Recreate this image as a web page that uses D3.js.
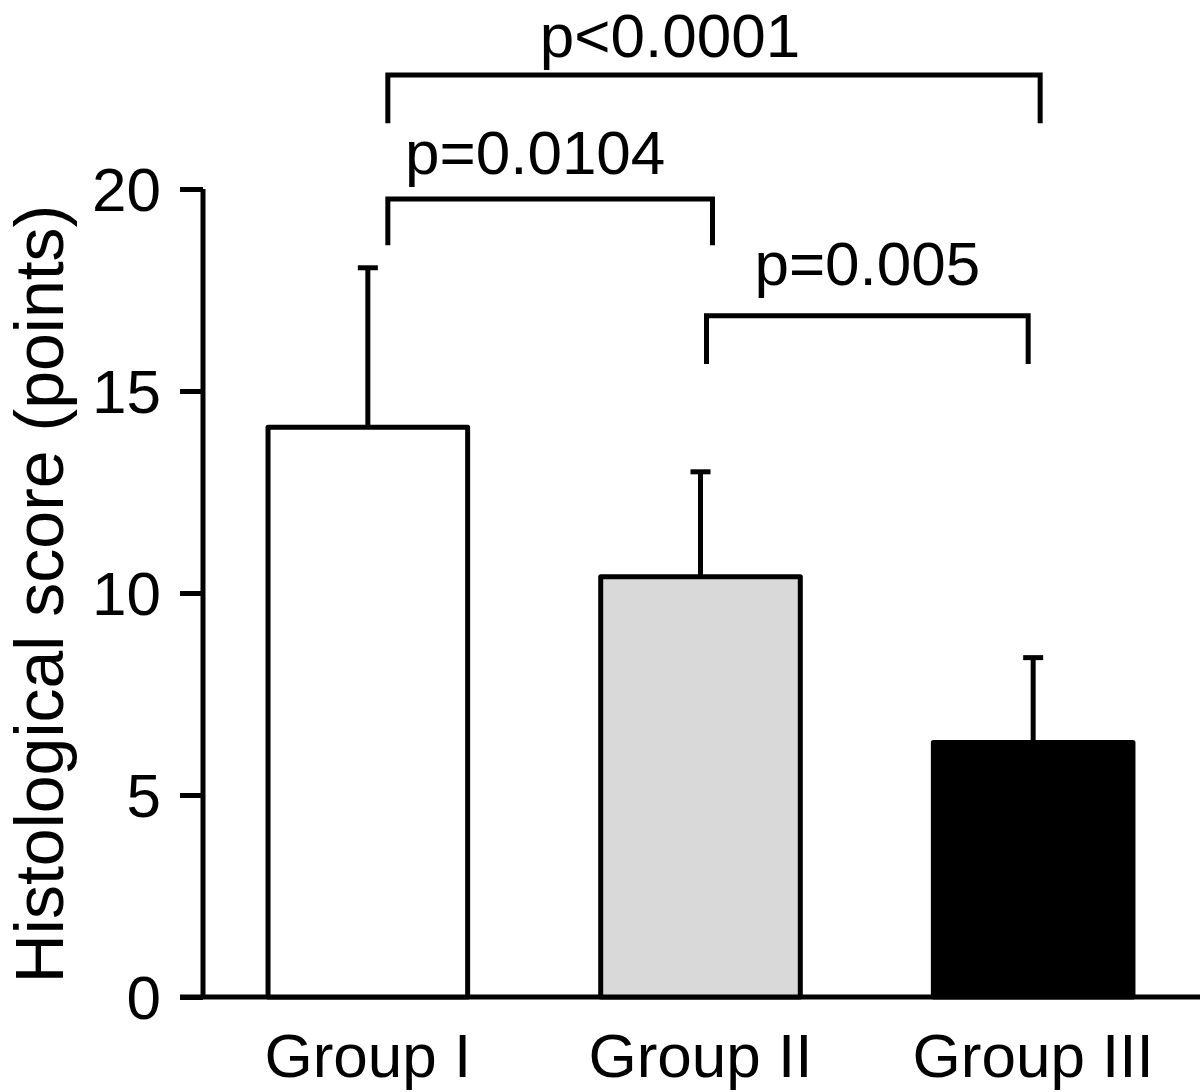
<!DOCTYPE html>
<html>
<head>
<meta charset="utf-8">
<script src="https://cdn.jsdelivr.net/npm/d3@7"></script>
<style>
  html, body { margin: 0; padding: 0; background: #fff; }
  svg { display: block; font-family: "Liberation Sans", Arial, Helvetica, sans-serif; }
</style>
</head>
<body>
<svg id="chart" width="1200" height="1092"></svg>
<script>
// ---- data ----
const groups = ["Group I", "Group II", "Group III"];
const means = [14.1, 10.4, 6.3];
const errors = [3.95, 2.6, 2.1];
const fills = ["#ffffff", "#d9d9d9", "#000000"];
const yTicks = [0, 5, 10, 15, 20];
const yLabel = "Histological score (points)";
const pLabels = ["p<0.0001", "p=0.0104", "p=0.005"];
const pFrom = [0, 0, 1];
const pTo = [2, 1, 2];
const pBarLevel = [22.82, 19.75, 16.86];
const pDropLevel = [21.63, 18.61, 15.67];

// ---- layout (positions, not data) ----
const W = 1200, H = 1092;
const svg = d3.select("#chart");
const y = d3.scaleLinear().domain([0, 20]).range([997, 189]);
const x = d3.scaleBand().domain(groups).range([201.5, 1199.5]).paddingInner(0.4).paddingOuter(0.2);
const SW = 5;
const fontSize = 62;

// bracket end offsets relative to band centers
const bracketOffsets = [[20, 7], [20, 12], [6, -5]];
const labelOffsets = [-44, -15, 0]; // text center offset from bracket center
const labelBaselineGap = [18, 25, 31];

// y axis
const yAxis = d3.axisLeft(y).tickValues(yTicks).tickSize(23).tickSizeOuter(0).tickPadding(19);
const gy = svg.append("g").attr("transform", "translate(203,0)").call(yAxis);
gy.select(".domain").attr("stroke-width", SW).attr("d", `M0,${y(20)}V${y(0)}`);
gy.selectAll(".tick line").attr("stroke-width", SW);
gy.selectAll(".tick text").attr("font-size", fontSize).attr("font-family", "Liberation Sans, Arial, sans-serif").attr("fill", "#000").attr("dy", "0.35em");

// x axis
const xAxis = d3.axisBottom(x).tickSize(0).tickPadding(36);
const gx = svg.append("g").attr("transform", `translate(0,${y(0)})`).call(xAxis);
gx.select(".domain").remove();
gx.selectAll(".tick text").attr("font-size", fontSize).attr("font-family", "Liberation Sans, Arial, sans-serif").attr("fill", "#000");
svg.append("line").attr("x1", 180).attr("x2", W).attr("y1", y(0)).attr("y2", y(0))
  .attr("stroke", "#000").attr("stroke-width", SW);

// bars
const data = groups.map((g, i) => ({ g, m: means[i], e: errors[i], f: fills[i] }));
svg.append("g").selectAll("rect").data(data).join("rect")
  .attr("x", d => x(d.g))
  .attr("y", d => y(d.m))
  .attr("width", x.bandwidth())
  .attr("height", d => y(0) - y(d.m))
  .attr("fill", d => d.f)
  .attr("stroke", "#000")
  .attr("stroke-width", SW)
  .attr("stroke-linejoin", "round");

// error bars
const eg = svg.append("g").attr("stroke", "#000").attr("stroke-width", SW);
data.forEach(d => {
  const cx = x(d.g) + x.bandwidth() / 2;
  eg.append("line").attr("x1", cx).attr("x2", cx).attr("y1", y(d.m)).attr("y2", y(d.m + d.e));
  eg.append("line").attr("x1", cx - 10).attr("x2", cx + 10).attr("y1", y(d.m + d.e)).attr("y2", y(d.m + d.e));
});

// significance brackets
pLabels.forEach((lab, i) => {
  const x1 = x(groups[pFrom[i]]) + x.bandwidth() / 2 + bracketOffsets[i][0];
  const x2 = x(groups[pTo[i]]) + x.bandwidth() / 2 + bracketOffsets[i][1];
  const yb = y(pBarLevel[i]), yd = y(pDropLevel[i]);
  svg.append("path")
    .attr("d", `M${x1},${yd}V${yb}H${x2}V${yd}`)
    .attr("fill", "none").attr("stroke", "#000").attr("stroke-width", SW);
  svg.append("text")
    .attr("x", (x1 + x2) / 2 + labelOffsets[i])
    .attr("y", yb - labelBaselineGap[i])
    .attr("text-anchor", "middle")
    .attr("font-size", fontSize)
    .text(lab);
});

// y label
svg.append("text")
  .attr("transform", `translate(63,594) rotate(-90)`)
  .attr("text-anchor", "middle")
  .attr("font-size", 68)
  .text(yLabel);
</script>
</body>
</html>
